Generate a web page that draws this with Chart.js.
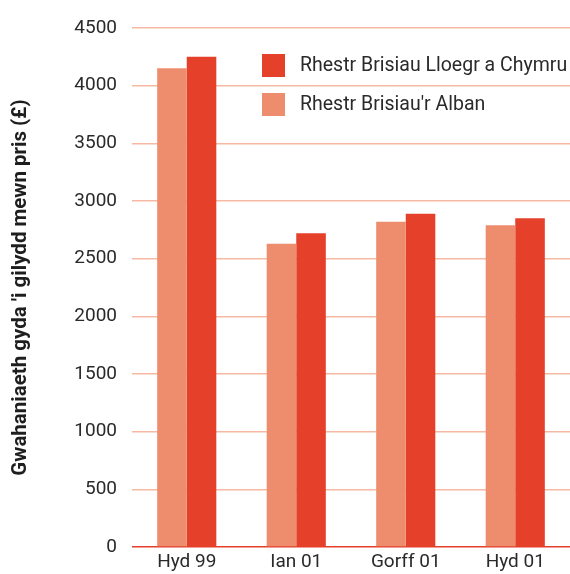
<!DOCTYPE html>
<html>
<head>
<meta charset="utf-8">
<script src="https://cdn.jsdelivr.net/npm/chart.js@4/dist/chart.umd.min.js"></script>
<style>
  html, body { margin: 0; padding: 0; background: #fff; }
  #wrap { width: 570px; height: 574px; }
</style>
</head>
<body>
<div id="wrap"><canvas id="chart" width="570" height="574"></canvas></div>
<script>
const categories = ['Hyd 99', 'Ian 01', 'Gorff 01', 'Hyd 01'];
const albanValues = [4150, 2630, 2820, 2790];
const lloegrValues = [4250, 2720, 2890, 2850];
const yTicks = [0, 500, 1000, 1500, 2000, 2500, 3000, 3500, 4000, 4500];

const lightRed = '#ee8c6e';
const darkRed = '#e4402a';
const gridColor = '#f7b9a3';
const fontFamily = 'Roboto, "Liberation Sans", sans-serif';

// legend drawn inside the plot, top right
const boxLegend = {
  id: 'boxLegend',
  afterDraw(chart) {
    const ctx = chart.ctx;
    const items = [
      { label: 'Rhestr Brisiau Lloegr a Chymru', color: darkRed },
      { label: "Rhestr Brisiau'r Alban", color: lightRed }
    ];
    ctx.save();
    ctx.font = '19.5px ' + fontFamily;
    ctx.textBaseline = 'middle';
    items.forEach((it, i) => {
      const y = 54 + i * 39;
      ctx.fillStyle = it.color;
      ctx.fillRect(262, y, 23, 23);
      ctx.fillStyle = '#2a2a2a';
      ctx.fillText(it.label, 300, y + 12);
    });
    ctx.restore();
  }
};

new Chart(document.getElementById('chart').getContext('2d'), {
  type: 'bar',
  data: {
    labels: categories,
    datasets: [
      { label: "Rhestr Brisiau'r Alban", data: albanValues, backgroundColor: lightRed },
      { label: 'Rhestr Brisiau Lloegr a Chymru', data: lloegrValues, backgroundColor: darkRed }
    ]
  },
  options: {
    responsive: false,
    animation: false,
    layout: { padding: { top: 28, right: 0, left: 0, bottom: 0 } },
    datasets: { bar: { barPercentage: 1, categoryPercentage: 0.54 } },
    plugins: { legend: { display: false }, tooltip: { enabled: false } },
    scales: {
      x: {
        grid: { display: false, drawTicks: false },
        border: { display: false },
        ticks: { color: '#2a2a2a', font: { family: fontFamily, size: 19, lineHeight: 1 }, padding: 6 },
        afterFit(scale) { scale.height = 27; }
      },
      y: {
        min: 0,
        max: 4500,
        afterBuildTicks(scale) { scale.ticks = yTicks.map(v => ({ value: v })); },
        grid: {
          color: c => (c.tick && c.tick.value === 0 ? darkRed : gridColor),
          lineWidth: 1.5,
          drawTicks: false
        },
        border: { display: false },
        ticks: {
          color: '#2a2a2a',
          font: { family: fontFamily, size: 19 },
          padding: 15,
          callback: v => String(v)
        },
        title: {
          display: true,
          text: "Gwahaniaeth gyda 'i gilydd mewn pris (£)",
          color: '#1e1e1e',
          font: { family: fontFamily, size: 20.5, weight: 'bold' },
          padding: { top: 9, bottom: 0 }
        },
        afterFit(scale) { scale.width = 132; }
      }
    }
  },
  plugins: [boxLegend]
});
</script>
</body>
</html>
